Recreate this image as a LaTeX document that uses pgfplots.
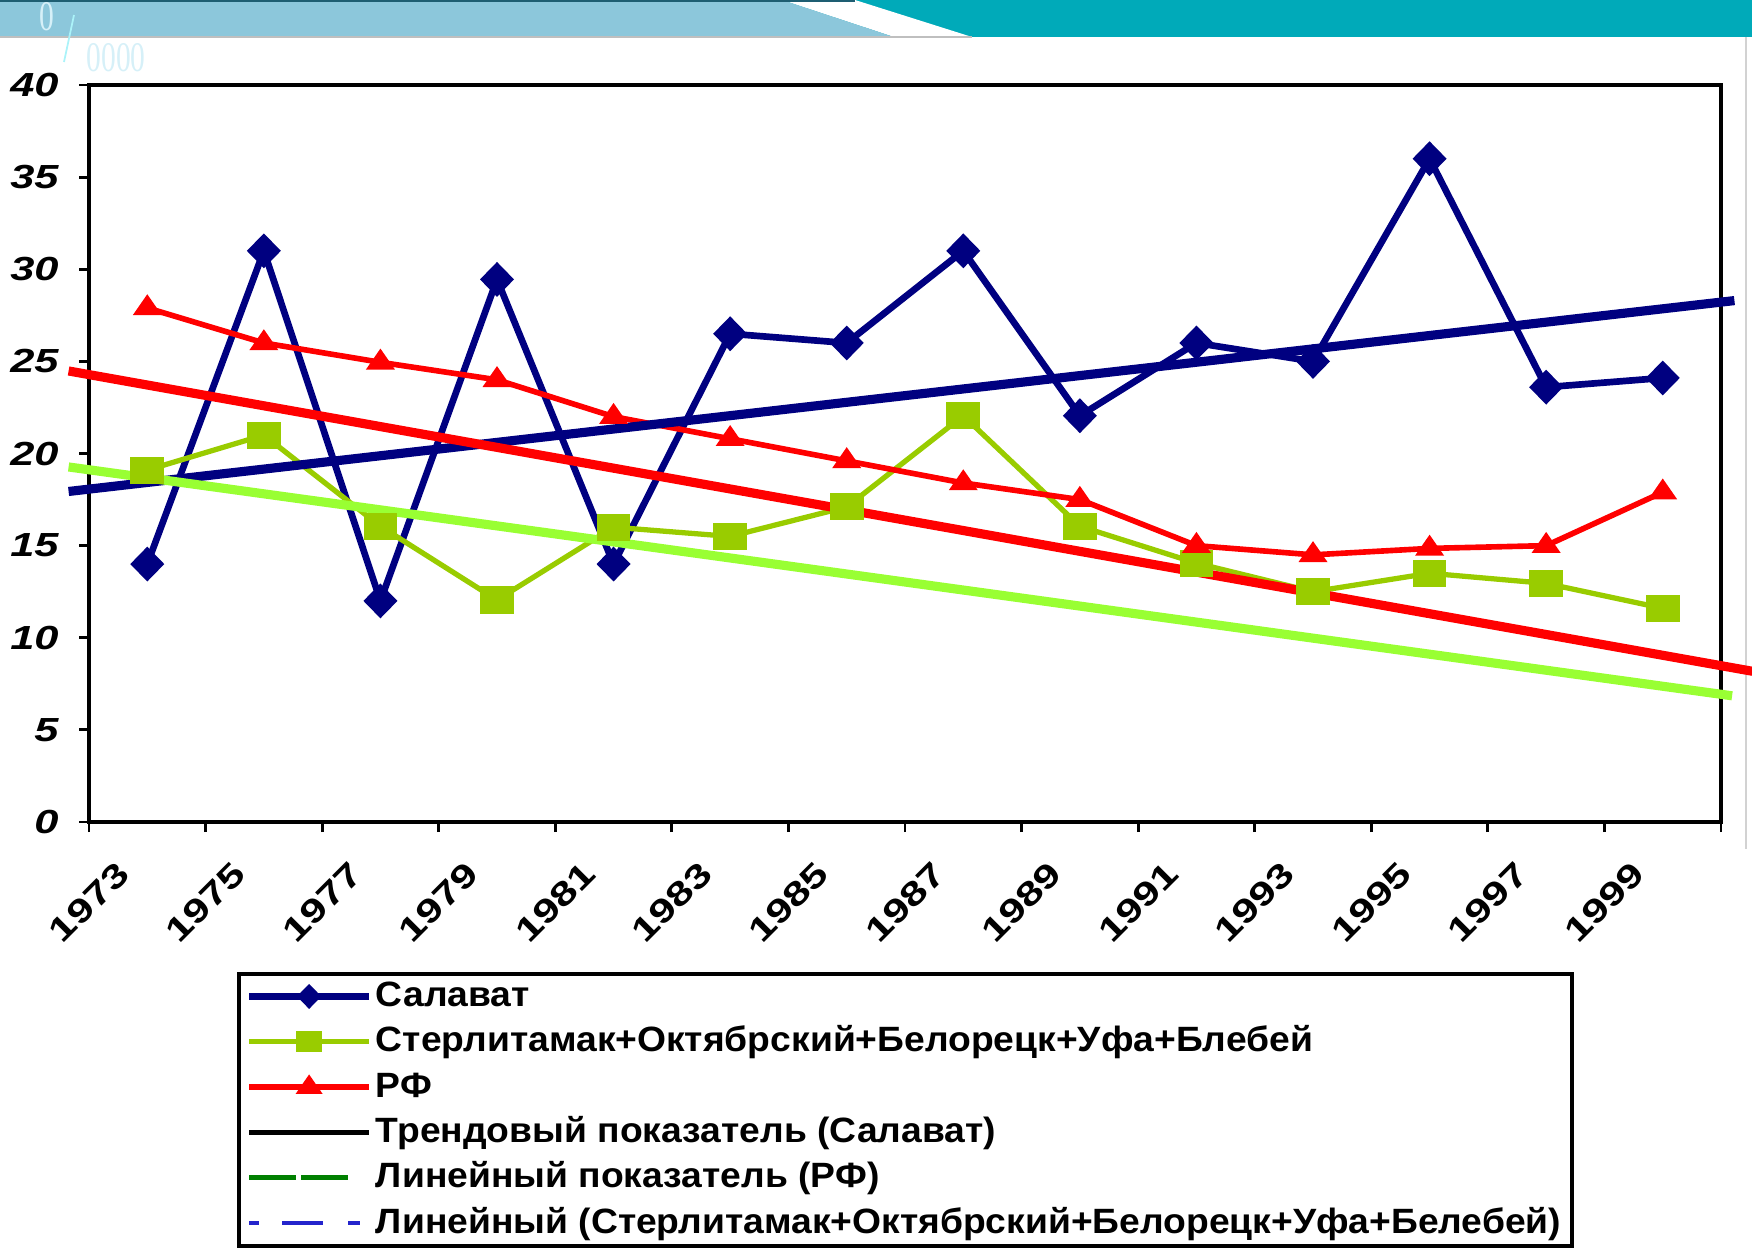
\documentclass[border=0pt]{standalone}
\usepackage{fontspec}
\setmainfont{Liberation Sans}
\newfontfamily\tickfont[FakeStretch=1.3]{Liberation Sans}
\newfontfamily\legfont[FakeStretch=1.06]{Liberation Sans}
\newfontfamily\hdrfont[FakeStretch=0.7]{Liberation Serif}
\usepackage{pgfplots}
\pgfplotsset{compat=1.18}

\definecolor{salavat}{HTML}{000080}
\definecolor{sterl}{HTML}{99CC00}
\definecolor{rf}{HTML}{FF0000}
\definecolor{trgreen}{HTML}{99FF33}
\definecolor{leggreen}{HTML}{008000}
\definecolor{legblue}{HTML}{2424CC}
\definecolor{hdrblue}{HTML}{8CC7DB}
\definecolor{hdrteal}{HTML}{00AAB9}
\definecolor{hdrdark}{HTML}{1E5E72}
\definecolor{hdrpale}{HTML}{D6F0F8}

\begin{document}
\begin{tikzpicture}
\path[use as bounding box] (0,0) rectangle (17.52,12.49);

% slide header
\fill[hdrteal] (0,12.12) rectangle (17.52,12.49);
\fill[white] (7.82,12.49) -- (8.55,12.49) -- (9.72,12.12) -- (8.94,12.12) -- cycle;
\fill[hdrblue] (0,12.12) -- (0,12.49) -- (7.82,12.49) -- (8.94,12.12) -- cycle;
\draw[hdrdark, line width=0.8pt] (0,12.485) -- (8.55,12.485);
\draw[gray!50, line width=0.4pt] (0,12.12) -- (9.72,12.12);
\draw[gray!35, line width=0.6pt] (17.46,12.12) -- (17.46,4.0);
\node[text=hdrpale, font=\hdrfont\fontsize{12}{12}\selectfont] at (0.47,12.32) {0};
\draw[hdrpale!80!cyan, line width=0.5pt] (0.74,12.34) -- (0.64,11.87);
\node[text=hdrpale, font=\hdrfont\fontsize{12}{12}\selectfont] at (1.16,11.91) {0000};

\begin{axis}[
    at={(0.89cm,4.27cm)}, anchor=south west,
    scale only axis, width=16.32cm, height=7.37cm,
    xmin=1973, xmax=2001, ymin=0, ymax=40,
    xtick={1973,1975,...,2001},
    xticklabels={1973,1975,1977,1979,1981,1983,1985,1987,1989,1991,1993,1995,1997,1999,{}},
    ytick={0,5,...,40},
    xtick pos=left, ytick pos=left,
    tick align=outside, major tick length=0.1cm,
    tick style={black, line width=0.8pt},
    axis line style={line width=1pt},
    clip=false,
    /pgf/number format/assume math mode=true,
    /pgf/number format/1000 sep={},
    yticklabel style={font=\tickfont\fontsize{9.5}{10}\selectfont\bfseries\itshape, xshift=-0.08cm},
    xticklabel style={font=\tickfont\fontsize{9.5}{10}\selectfont\bfseries, yshift=-0.7cm, rotate=45, anchor=center},
    legend image code/.code={\draw[mark repeat=2,mark phase=2,#1,mark size=2.2pt] plot coordinates {(0cm,0cm) (0.6cm,0cm) (1.2cm,0cm)};},
    legend style={at={(0.0907,-0.2035)}, anchor=north west, draw=black, line width=1pt, fill=white,
        font=\legfont\fontsize{10}{12}\selectfont\bfseries, cells={anchor=west},
        inner xsep=0.07cm, inner ysep=0pt, row sep=0pt,
        nodes={inner sep=1pt, text height=8.3pt, text depth=2.6pt}},
]
\addplot[salavat, line width=1.9pt, mark=diamond*, mark size=3.6pt, mark options={xscale=1.3}]
coordinates {(1974,14.0) (1976,31.0) (1978,12.0) (1980,29.45) (1982,14.0) (1984,26.5) (1986,26.0)
 (1988,31.0) (1990,22.05) (1992,26.0) (1994,25.0) (1996,36.0) (1998,23.6) (2000,24.1)};
\addlegendentry{Салават}
\addplot[sterl, line width=1.5pt, mark=square*, mark size=3.1pt, mark options={xscale=1.3}]
coordinates {(1974,19.1) (1976,21.0) (1978,16.05) (1980,12.05) (1982,16.0) (1984,15.5) (1986,17.1)
 (1988,22.05) (1990,16.05) (1992,14.05) (1994,12.5) (1996,13.5) (1998,12.95) (2000,11.6)};
\addlegendentry{Стерлитамак+Октябрский+Белорецк+Уфа+Блебей}
\addplot[rf, line width=1.6pt, mark=triangle*, mark size=2.5pt, mark options={xscale=1.2}]
coordinates {(1974,27.9) (1976,26.0) (1978,24.95) (1980,24.0) (1982,22.0) (1984,20.8) (1986,19.6)
 (1988,18.4) (1990,17.5) (1992,15.0) (1994,14.5) (1996,14.85) (1998,15.0) (2000,17.9)};
\addlegendentry{РФ}

% trend lines
\addplot[salavat, line width=2.6pt, forget plot] coordinates {(1972.65,17.94) (2001.23,28.3)};
\addplot[rf, line width=2.6pt, forget plot] coordinates {(1972.65,24.48) (2001.54,8.18)};
\addplot[trgreen, line width=2.6pt, forget plot] coordinates {(1972.65,19.27) (2001.19,6.85)};

\addlegendimage{black, line width=1.6pt}
\addlegendentry{Трендовый показатель (Салават)}
\addlegendimage{leggreen, line width=1.4pt, legend image code/.code={\draw[leggreen, line width=1.4pt, dash pattern=on 0.47cm off 0.05cm] (0cm,0cm) -- (1.0cm,0cm);}}
\addlegendentry{Линейный показатель (РФ)}
\addlegendimage{legblue, line width=1.2pt, legend image code/.code={\draw[legblue, line width=1.2pt, dash pattern=on 0.1cm off 0.23cm on 0.41cm off 0.25cm on 0.12cm off 1cm] (0cm,0cm) -- (1.11cm,0cm);}}
\addlegendentry{Линейный (Стерлитамак+Октябрский+Белорецк+Уфа+Белебей)}
\end{axis}
\end{tikzpicture}
\end{document}
